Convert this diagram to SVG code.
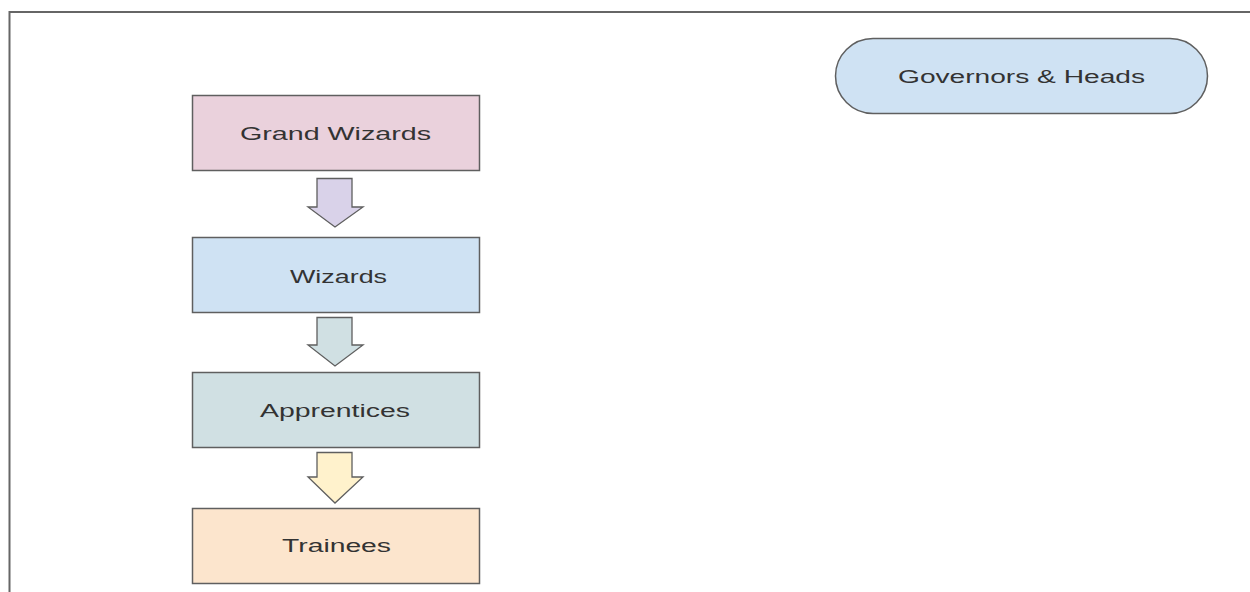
<svg xmlns="http://www.w3.org/2000/svg" width="1250" height="592" viewBox="0 0 1250 592">
<style>
.box{stroke:#5f5f5f;stroke-width:1.5}
.arr{stroke:#5f5f5f;stroke-width:1.3;stroke-linejoin:miter}
.t{font-family:"Liberation Sans",Arial,sans-serif;font-size:17.5px;fill:#333;text-anchor:start}
</style>
<rect x="0" y="0" width="1250" height="592" fill="#fff"/>
<path d="M9.5 700 V12 H1260" fill="none" stroke="#666" stroke-width="2"/>
<g id="governors">
<rect class="box" x="835.5" y="38.5" width="372" height="75" rx="37.5" ry="37.5" fill="#cfe2f3"/>
<text class="t" x="898" y="83" textLength="247" lengthAdjust="spacingAndGlyphs">Governors &amp; Heads</text>
</g>
<g id="grand-wizards">
<rect class="box" x="192.5" y="95.5" width="287" height="75" fill="#ead1dc"/>
<text class="t" x="240" y="140" textLength="191" lengthAdjust="spacingAndGlyphs">Grand Wizards</text>
</g>
<g id="wizards">
<rect class="box" x="192.5" y="237.5" width="287" height="75" fill="#cfe2f3"/>
<text class="t" x="290" y="283" textLength="97" lengthAdjust="spacingAndGlyphs">Wizards</text>
</g>
<g id="apprentices">
<rect class="box" x="192.5" y="372.5" width="287" height="75" fill="#d0e0e3"/>
<text class="t" x="260" y="417" textLength="150" lengthAdjust="spacingAndGlyphs">Apprentices</text>
</g>
<g id="trainees">
<rect class="box" x="192.5" y="508.5" width="287" height="75" fill="#fce5cd"/>
<text class="t" x="282" y="552" textLength="109" lengthAdjust="spacingAndGlyphs">Trainees</text>
</g>
<g id="connectors">
<path class="arr" d="M317 178.5 H352 V207 H363 L335 227 L308 207 H317 Z" fill="#d9d2e9"/>
<path class="arr" d="M317 317.5 H352 V345 H363 L335 366 L308 345 H317 Z" fill="#d0e0e3"/>
<path class="arr" d="M317 452.5 H352 V477 H363 L335 503 L308 477 H317 Z" fill="#fff2cc"/>
</g>
</svg>
